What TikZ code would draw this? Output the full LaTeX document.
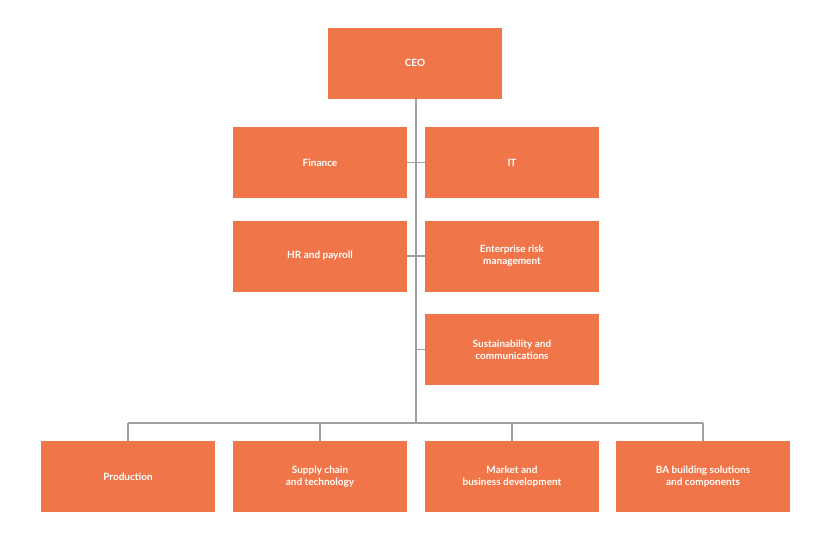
\documentclass[tikz,border=0pt]{standalone}
\usepackage{fontspec}
\setmainfont{Lato}
\definecolor{box}{HTML}{F07548}
\definecolor{ln}{HTML}{A0A0A0}
\begin{document}
\begin{tikzpicture}[x=1pt,y=-1pt,
  bx/.style={fill=box,text=white,minimum width=174pt,minimum height=71pt,inner sep=0pt,align=center,font=\bfseries\fontsize{10}{12}\selectfont},
  cn/.style={draw=ln,line width=1.8pt}]
\useasboundingbox (0,0) rectangle (835,549);
\node[bx] (ceo) at (415,63) {CEO};
\node[bx] (fin) at (320,162.5) {Finance};
\node[bx] (it) at (512,162.5) {IT};
\node[bx] (hr) at (320,256) {HR and payroll};
\node[bx] (erm) at (512,256) {Enterprise risk\\management};
\node[bx] (sus) at (512,349.5) {Sustainability and\\communications};
\node[bx] (p1) at (128,476.5) {Production};
\node[bx] (p2) at (320,476.5) {Supply chain\\and technology};
\node[bx] (p3) at (512,476.5) {Market and\\business development};
\node[bx] (p4) at (703,476.5) {BA building solutions\\and components};
\coordinate (j) at (416,423);
\draw[cn] (ceo.south -| j) -- (j);
\draw[cn] (fin.east) -- (it.west);
\draw[cn] (hr.east) -- (erm.west);
\draw[cn] (416,349.5) -- (sus.west);
\draw[cn] (p1.north |- j) -- (p1.north);
\draw[cn] (p2.north |- j) -- (p2.north);
\draw[cn] (p3.north |- j) -- (p3.north);
\draw[cn] (p4.north |- j) -- (p4.north);
\draw[cn] (p1.north |- j) -- (p4.north |- j);
\end{tikzpicture}
\end{document}
